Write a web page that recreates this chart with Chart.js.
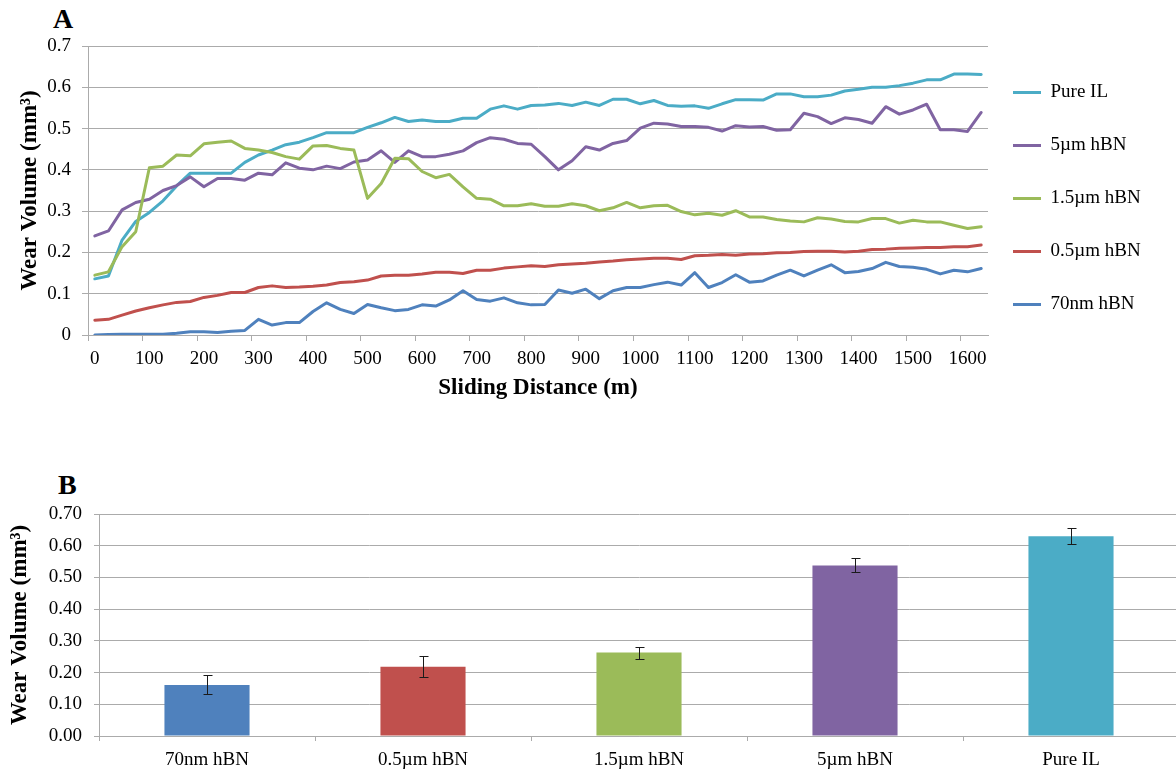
<!DOCTYPE html>
<html>
<head>
<meta charset="utf-8">
<script src="https://cdn.jsdelivr.net/npm/chart.js@4/dist/chart.umd.min.js"></script>
<style>
  html, body { margin: 0; padding: 0; background: #ffffff; }
  body { width: 1176px; height: 782px; overflow: hidden; position: relative; }
  .panel { position: absolute; font: bold 28px/1 'Liberation Serif', 'Times New Roman', serif; color: #000; }
  canvas { position: absolute; left: 0; }
</style>
</head>
<body>
<div class="panel" style="left:53px; top:5px;">A</div>
<div class="panel" style="left:58px; top:471px;">B</div>
<canvas id="lineChart" width="1176" height="402" style="top:0px;"></canvas>
<canvas id="barChart" width="1180" height="342" style="top:440px;"></canvas>
<script>
// ---------- Panel A data ----------
const distance = [0,25,50,75,100,125,150,175,200,225,250,275,300,325,350,375,400,425,450,475,
  500,525,550,575,600,625,650,675,700,725,750,775,800,825,850,875,900,925,950,975,
  1000,1025,1050,1075,1100,1125,1150,1175,1200,1225,1250,1275,1300,1325,1350,1375,
  1400,1425,1450,1475,1500,1525,1550,1575,1600,1625];
const xTickLabels = [0,100,200,300,400,500,600,700,800,900,1000,1100,1200,1300,1400,1500,1600];
const yTicksA = [0,0.1,0.2,0.3,0.4,0.5,0.6,0.7];

const pureIL = [0.136,0.143,0.230,0.275,0.297,0.325,0.361,0.392,0.392,0.392,0.392,0.418,0.436,0.448,0.461,0.467,0.478,
  0.490,0.490,0.490,0.503,0.514,0.527,0.517,0.521,0.517,0.517,0.525,0.525,0.547,0.555,0.547,0.556,
  0.557,0.561,0.556,0.564,0.556,0.571,0.571,0.560,0.568,0.556,0.554,0.555,0.549,0.560,0.570,0.570,
  0.569,0.584,0.584,0.577,0.577,0.581,0.591,0.595,0.600,0.600,0.604,0.610,0.618,0.618,0.632,0.632,0.631];
const hBN5um = [0.240,0.252,0.303,0.321,0.329,0.350,0.362,0.383,0.359,0.379,0.379,0.375,0.392,0.388,0.417,0.404,0.400,
  0.409,0.403,0.419,0.424,0.446,0.418,0.446,0.432,0.432,0.438,0.446,0.466,0.478,0.474,0.464,0.462,
  0.432,0.400,0.422,0.456,0.448,0.464,0.471,0.501,0.513,0.511,0.505,0.505,0.503,0.494,0.507,0.504,
  0.505,0.496,0.497,0.537,0.529,0.512,0.526,0.522,0.513,0.553,0.535,0.545,0.559,0.497,0.497,0.493,0.539];
const hBN15um = [0.145,0.153,0.214,0.250,0.405,0.409,0.436,0.434,0.463,0.467,0.470,0.452,0.448,0.442,0.432,0.426,0.458,
  0.459,0.452,0.448,0.331,0.367,0.428,0.427,0.396,0.381,0.389,0.359,0.331,0.329,0.313,0.313,0.318,
  0.312,0.312,0.318,0.313,0.301,0.308,0.321,0.308,0.313,0.314,0.299,0.291,0.295,0.290,0.301,0.286,
  0.286,0.280,0.276,0.274,0.284,0.281,0.275,0.274,0.282,0.282,0.271,0.278,0.274,0.274,0.266,0.258,0.262];
const hBN05um = [0.036,0.038,0.048,0.058,0.066,0.073,0.079,0.081,0.091,0.096,0.103,0.103,0.115,0.119,0.115,0.116,0.118,
  0.121,0.127,0.129,0.133,0.143,0.145,0.145,0.148,0.152,0.152,0.149,0.157,0.157,0.162,0.165,0.168,
  0.166,0.170,0.172,0.174,0.177,0.179,0.182,0.184,0.186,0.186,0.183,0.192,0.193,0.195,0.193,0.196,
  0.197,0.199,0.200,0.202,0.203,0.203,0.201,0.203,0.207,0.208,0.210,0.211,0.212,0.212,0.214,0.214,0.218];
const hBN70nm = [0.000,0.001,0.002,0.002,0.002,0.002,0.004,0.008,0.008,0.006,0.009,0.011,0.038,0.024,0.030,0.030,0.057,
  0.078,0.062,0.052,0.074,0.066,0.059,0.062,0.073,0.070,0.085,0.107,0.086,0.082,0.090,0.078,0.073,
  0.074,0.109,0.101,0.111,0.088,0.107,0.115,0.115,0.122,0.128,0.121,0.151,0.115,0.127,0.146,0.128,
  0.131,0.145,0.157,0.143,0.157,0.170,0.151,0.154,0.161,0.176,0.166,0.164,0.159,0.148,0.157,0.153,0.161];

const seriesNames = ['Pure IL', '5\u00b5m hBN', '1.5\u00b5m hBN', '0.5\u00b5m hBN', '70nm hBN'];
const seriesColors = ['#4BACC6', '#8064A2', '#9BBB59', '#C0504D', '#4F81BD'];

// ---------- Panel B data ----------
const barLabels = ['70nm hBN', '0.5\u00b5m hBN', '1.5\u00b5m hBN', '5\u00b5m hBN', 'Pure IL'];
const barValues = [0.161, 0.218, 0.263, 0.538, 0.630];
const barErrors = [0.030, 0.033, 0.019, 0.022, 0.025];
const barColors = ['#4F81BD', '#C0504D', '#9BBB59', '#8064A2', '#4BACC6'];
const yTicksB = [0, 0.1, 0.2, 0.3, 0.4, 0.5, 0.6, 0.7];

// ---------- common styling ----------
const FONT = "'Liberation Serif', 'Times New Roman', serif";
const GRID = '#ababab';
const TXT = '#000000';
Chart.defaults.font.family = FONT;
Chart.defaults.color = TXT;

const seriesData = [pureIL, hBN5um, hBN15um, hBN05um, hBN70nm];

const legendShift = {
  id: 'legendShift',
  afterLayout(chart) {
    const l = chart.legend;
    if (!l) return;
    l.left = chart.chartArea.right - 9;
    l.right = chart.width;
    l.top = 49;
  }
};

new Chart(document.getElementById('lineChart'), {
  type: 'line',
  data: {
    labels: distance,
    datasets: seriesNames.map((name, k) => ({
      label: name,
      data: seriesData[k],
      borderColor: seriesColors[k],
      backgroundColor: seriesColors[k],
      borderWidth: 3,
      pointRadius: 0,
      pointHoverRadius: 0,
      tension: 0,
      borderJoinStyle: 'round',
      borderCapStyle: 'round',
      fill: false,
      order: seriesNames.length - k
    }))
  },
  options: {
    responsive: false,
    animation: false,
    events: [],
    layout: { padding: { top: 46, right: 38, bottom: 0, left: 0 } },
    plugins: {
      tooltip: { enabled: false },
      legend: {
        position: 'right',
        align: 'start',
        maxWidth: 150,
        labels: {
          usePointStyle: true,
          pointStyle: 'line',
          pointStyleWidth: 28,
          padding: 34,
          color: TXT,
          font: { family: FONT, size: 19 },
          sort: (a, b) => a.datasetIndex - b.datasetIndex
        }
      }
    },
    scales: {
      x: {
        type: 'category',
        offset: true,
        afterFit(s) { s.height = 67; },
        grid: {
          offset: true,
          drawOnChartArea: false,
          drawTicks: true,
          tickLength: 6,
          lineWidth: 1,
          color: (ctx) => (ctx.index % 4 === 0 ? GRID : 'rgba(0,0,0,0)')
        },
        border: { display: true, color: GRID, width: 1 },
        ticks: {
          autoSkip: false,
          maxRotation: 0,
          minRotation: 0,
          padding: 7,
          color: TXT,
          font: { family: FONT, size: 19 },
          callback: function (value, index) {
            const d = distance[index];
            return xTickLabels.includes(d) ? String(d) : '';
          }
        },
        title: {
          display: true,
          text: 'Sliding Distance (m)',
          color: TXT,
          font: { family: FONT, size: 23, weight: 'bold' },
          padding: { top: 0, bottom: 0 }
        }
      },
      y: {
        min: 0,
        max: 0.7,
        afterFit(s) { s.width = 88; },
        afterBuildTicks(s) { s.ticks = yTicksA.map(v => ({ value: v })); },
        grid: { color: GRID, lineWidth: 1, drawTicks: true, tickLength: 6 },
        border: { display: true, color: GRID, width: 1 },
        ticks: {
          padding: 11,
          color: TXT,
          font: { family: FONT, size: 19 },
          callback: (v) => (v === 0 ? '0' : Number(v).toFixed(1))
        },
        title: {
          display: true,
          text: 'Wear Volume (mm\u00b3)',
          color: TXT,
          font: { family: FONT, size: 23, weight: 'bold' },
          padding: { top: 16, bottom: 0 }
        }
      }
    }
  },
  plugins: [legendShift]
});

const errorBars = {
  id: 'errorBars',
  afterDatasetsDraw(chart) {
    const { ctx } = chart;
    const y = chart.scales.y;
    const meta = chart.getDatasetMeta(0);
    ctx.save();
    ctx.strokeStyle = '#1a1a1a';
    ctx.lineWidth = 1;
    meta.data.forEach((bar, i) => {
      const v = barValues[i], e = barErrors[i];
      const x = Math.round(bar.x) + 0.5;
      const yt = Math.round(y.getPixelForValue(v + e)) + 0.5;
      const yb = Math.round(y.getPixelForValue(v - e)) + 0.5;
      ctx.beginPath();
      ctx.moveTo(x, yt); ctx.lineTo(x, yb);
      ctx.moveTo(x - 4, yt); ctx.lineTo(x + 5, yt);
      ctx.moveTo(x - 4, yb); ctx.lineTo(x + 5, yb);
      ctx.stroke();
    });
    ctx.restore();
  }
};

new Chart(document.getElementById('barChart'), {
  type: 'bar',
  data: {
    labels: barLabels,
    datasets: [{
      label: 'Wear Volume',
      data: barValues,
      backgroundColor: barColors,
      borderWidth: 0,
      barPercentage: 0.394,
      categoryPercentage: 1.0
    }]
  },
  options: {
    responsive: false,
    animation: false,
    events: [],
    layout: { padding: { top: 74, right: 1, bottom: 0, left: 0 } },
    plugins: { legend: { display: false }, tooltip: { enabled: false } },
    scales: {
      x: {
        offset: true,
        afterFit(s) { s.height = 46; },
        grid: { offset: true, drawOnChartArea: false, drawTicks: true, tickLength: 5, color: GRID, lineWidth: 1 },
        border: { display: true, color: GRID, width: 1 },
        ticks: { padding: 8, color: TXT, font: { family: FONT, size: 19 }, maxRotation: 0, autoSkip: false }
      },
      y: {
        min: 0,
        max: 0.7,
        afterFit(s) { s.width = 99; },
        afterBuildTicks(s) { s.ticks = yTicksB.map(v => ({ value: v })); },
        grid: { color: GRID, lineWidth: 1, drawTicks: true, tickLength: 5 },
        border: { display: true, color: GRID, width: 1 },
        ticks: {
          padding: 12,
          color: TXT,
          font: { family: FONT, size: 19 },
          callback: (v) => Number(v).toFixed(2)
        },
        title: {
          display: true,
          text: 'Wear Volume (mm\u00b3)',
          color: TXT,
          font: { family: FONT, size: 23, weight: 'bold' },
          padding: { top: 6, bottom: 0 }
        }
      }
    }
  },
  plugins: [errorBars]
});
</script>
</body>
</html>
